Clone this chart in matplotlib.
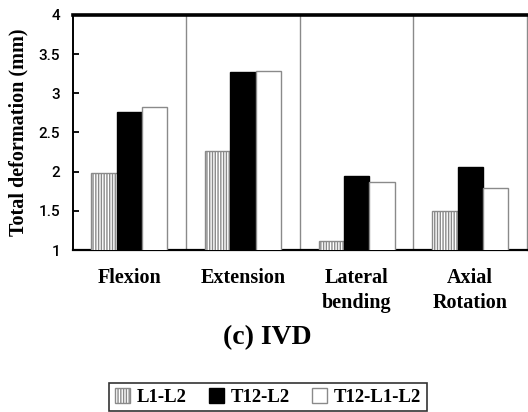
import numpy as np
import matplotlib
matplotlib.use("Agg")
import matplotlib.pyplot as plt

categories = ["Flexion", "Extension", "Lateral\nbending", "Axial\nRotation"]
series = ["L1-L2", "T12-L2", "T12-L1-L2"]
l1_l2 = [1.98, 2.27, 1.11, 1.50]
t12_l2 = [2.76, 3.27, 1.94, 2.06]
t12_l1_l2 = [2.83, 3.29, 1.87, 1.79]
yticks = [1, 1.5, 2, 2.5, 3, 3.5, 4]
ytick_labels = ["1", "1.5", "2", "2.5", "3", "3.5", "4"]

serif = "Liberation Serif"
sans = "Roboto"

fig = plt.figure(figsize=(5.28, 4.12), dpi=100)
ax = fig.add_axes([0.1377, 0.3932, 0.8603, 0.5704])

x = np.arange(len(categories))
w = 0.223
ax.bar(x - w, l1_l2, w, color="white", edgecolor="#8a8a8a",
       hatch="||||||", linewidth=1, label=series[0], zorder=3)
ax.bar(x, t12_l2, w, color="black", edgecolor="black", linewidth=1,
       label=series[1], zorder=3)
ax.bar(x + w, t12_l1_l2, w, color="white", edgecolor="#8a8a8a", linewidth=1,
       label=series[2], zorder=3)

# category separators
for s in x[:-1] + 0.5:
    ax.axvline(s, color="#8a8a8a", linewidth=1, zorder=1)

ax.set_xlim(-0.5, len(categories) - 0.5)
ax.set_ylim(1, 4)
ax.set_yticks(yticks)
ax.set_yticklabels(ytick_labels, fontfamily=sans, fontweight="medium", fontsize=11)
ax.set_xticks(x)
ax.set_xticklabels(categories, fontfamily=serif, fontweight="bold", fontsize=14.5,
                   linespacing=1.3)
ax.tick_params(axis="y", direction="in", length=4, width=1.3, pad=9)
ax.tick_params(axis="x", length=0, pad=13)

ax.spines["top"].set_linewidth(2.6)
ax.spines["left"].set_linewidth(1.4)
ax.spines["bottom"].set_linewidth(1.6)
ax.spines["right"].set_color("#8a8a8a")
ax.spines["right"].set_linewidth(1)

fig.text(18 / 528, 0.678, "Total deformation (mm)", rotation=90, ha="center",
         va="center", fontfamily=serif, fontweight="bold", fontsize=14.5)
fig.text(267 / 528, 1 - 338 / 412, "(c) IVD", ha="center", va="center",
         fontfamily=serif, fontweight="bold", fontsize=20)

leg = fig.legend(loc="center", bbox_to_anchor=(268 / 528, 1 - 397 / 412),
                 ncol=3, frameon=True, fancybox=False, edgecolor="black",
                 prop={"family": serif, "weight": "bold", "size": 13.5},
                 handlelength=0.8, handleheight=0.8, handletextpad=0.35,
                 columnspacing=1.2, borderpad=0.3, borderaxespad=0)
leg.get_frame().set_linewidth(1.2)

fig.savefig("out.png", dpi=100)
